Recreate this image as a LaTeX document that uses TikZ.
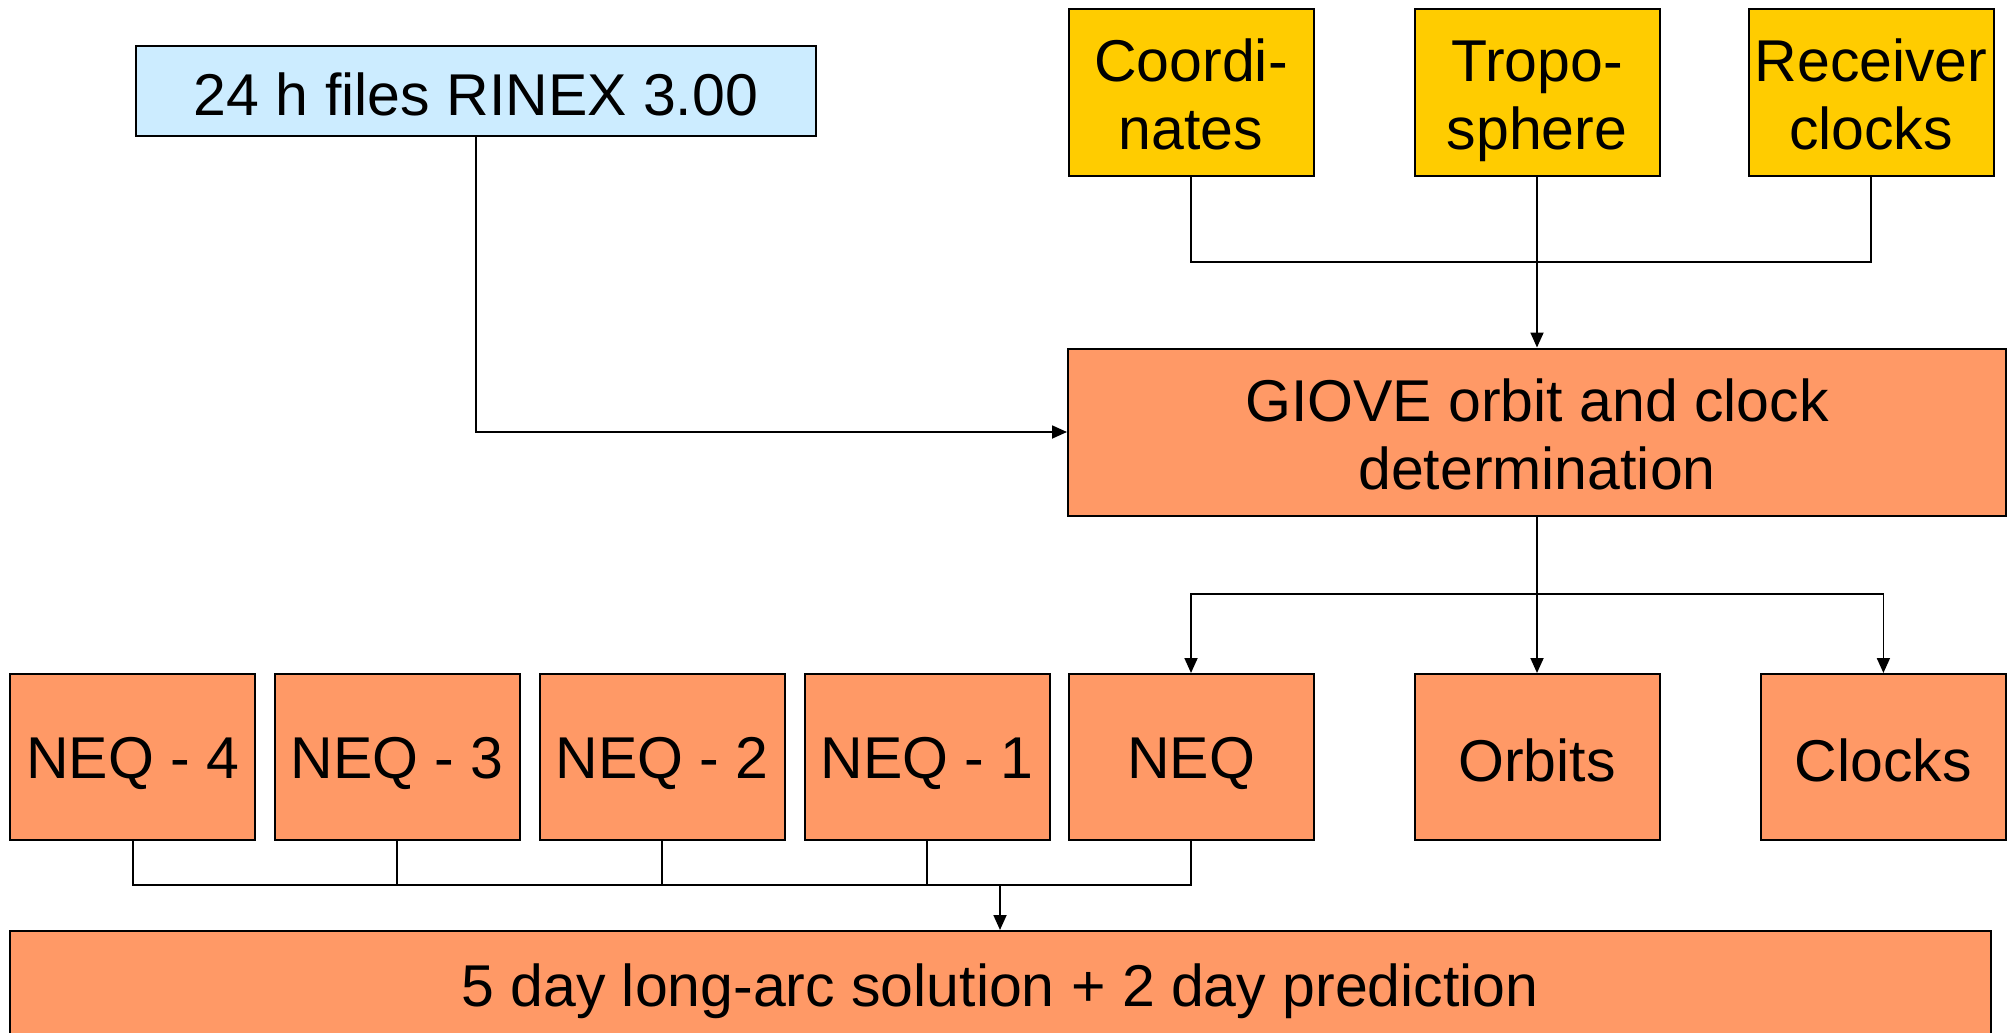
\documentclass[tikz,border=0pt]{standalone}
\usepackage{fontspec}
\setmainfont{Liberation Sans}
\usepackage{xcolor}
\usetikzlibrary{arrows.meta}

\definecolor{rinexblue}{RGB}{204,236,255}
\definecolor{inyellow}{RGB}{255,204,0}
\definecolor{procorange}{RGB}{255,153,102}
\newcommand{\topstrut}{\rule{0pt}{30.5pt}}
\newcommand{\botstrut}{\rule[-7pt]{0pt}{7pt}}

\begin{document}
\begin{tikzpicture}[x=0.5pt,y=0.5pt,yscale=-1,xscale=1,
  boxbase/.style={draw, line width=1pt, inner sep=0pt, align=center,
    font=\fontsize{29.5}{34}\selectfont,
    execute at begin node={\rule[-3pt]{0pt}{30pt}},
    execute at end node={\rule[-3pt]{0pt}{30pt}}},
  rinexbox/.style={boxbase, fill=rinexblue, minimum width=340pt, minimum height=45pt},
  inbox/.style={boxbase, fill=inyellow, minimum width=122.5pt, minimum height=83.5pt},
  procbox/.style={boxbase, fill=procorange, minimum width=122.5pt, minimum height=83pt},
  wire/.style={line width=0.9pt},
  flow/.style={wire, -{Triangle[length=7.5pt,width=6.5pt]}}]
\useasboundingbox (0,0) rectangle (2013,1033);

%Shape: Rectangle [input files]
\node[rinexbox] (rinex) at (476,91) {24 h files RINEX 3.00};
%Shape: Rectangle [a priori]
\node[inbox] (coord) at (1191,92) {\topstrut Coordi-\\nates\botstrut};
\node[inbox] (tropo) at (1537,92) {\topstrut Tropo-\\sphere\botstrut};
\node[inbox] (rcvclk) at (1871,92) {\topstrut Receiver\\clocks\botstrut};
%Shape: Rectangle [processing]
\node[procbox, minimum width=469pt, minimum height=83.5pt] (giove) at (1537,432) {\topstrut GIOVE orbit and clock\\determination\botstrut};
%Shape: Rectangle [normal equations]
\node[procbox] (neq4) at (132.6,757) {NEQ - 4};
\node[procbox] (neq3) at (397.3,757) {NEQ - 3};
\node[procbox] (neq2) at (662,757) {NEQ - 2};
\node[procbox] (neq1) at (927,757) {NEQ - 1};
\node[procbox] (neq0) at (1191,757) {NEQ};
\node[procbox] (orbits) at (1537,757) {Orbits};
\node[procbox] (clocks) at (1883.4,757) {Clocks};
%Shape: Rectangle [long arc]
\node[procbox, minimum width=990.5pt, minimum height=55pt] (longarc) at (1000,986) {5 day long-arc solution + 2 day prediction};

%Straight Lines [joins]
\coordinate (topjoin) at (1537,262);
\coordinate (midjoin) at (1537,594);
\coordinate (lowjoin) at (1000,885);

\draw[flow] (rinex.south) |- (giove.west);
\draw[wire] (coord.south) |- (topjoin) -| (rcvclk.south);
\draw[flow] (tropo.south) -- (giove.north);

\draw[wire] (giove.south) -- (midjoin);
\draw[flow] (midjoin) -| (neq0.north);
\draw[flow] (midjoin) -- (orbits.north);
\draw[flow] (midjoin) -| (clocks.north);

\draw[wire] (neq4.south) |- (lowjoin) -| (neq0.south);
\foreach \n in {neq3,neq2,neq1}
  \draw[wire] (\n.south) -- (\n.south |- lowjoin);
\draw[flow] (lowjoin) -- (longarc.north);
\end{tikzpicture}
\end{document}
